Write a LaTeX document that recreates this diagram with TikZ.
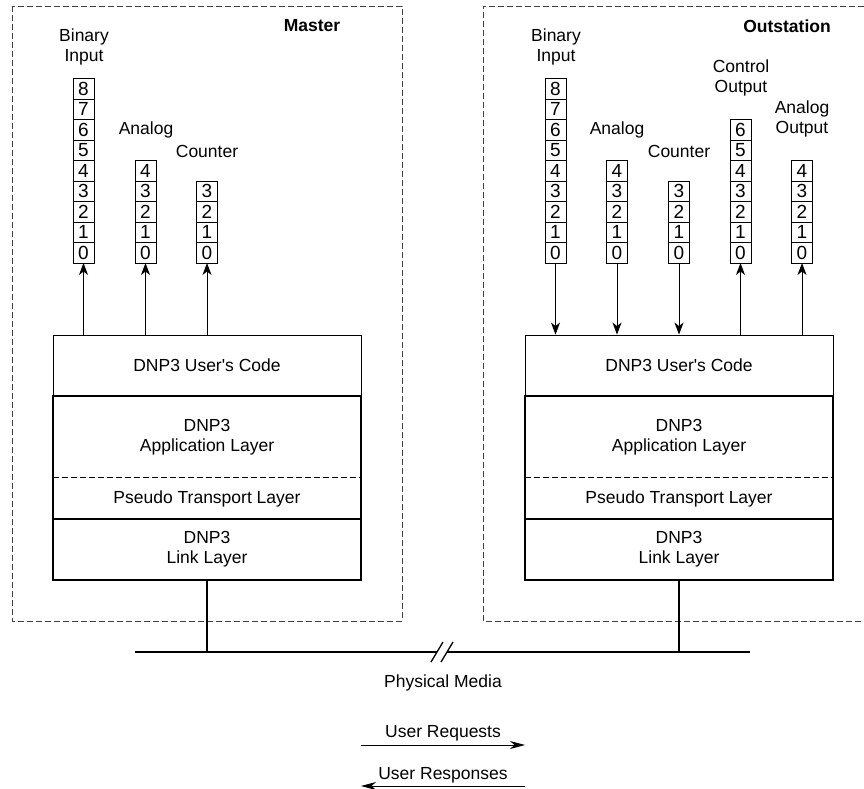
\documentclass[tikz,border=0pt]{standalone}
\usepackage{fontspec}
\setmainfont{Liberation Sans}
\usetikzlibrary{arrows.meta}

\tikzset{
  group/.style={draw=black!75, line width=0.9pt, dash pattern=on 6pt off 3pt},
  cell/.style={draw, line width=0.9pt, minimum width=21pt, minimum height=20.5pt, inner sep=0pt, outer sep=0pt,
    font=\fontsize{19}{20}\selectfont},
  codebox/.style={draw, line width=0.9pt, minimum width=308pt, minimum height=61pt, inner sep=0pt},
  layer/.style={minimum width=308pt, inner sep=0pt, align=center},
  heavy/.style={line width=2pt},
  split/.style={line width=0.9pt, dash pattern=on 6pt off 3pt},
  flow/.style={line width=0.9pt, -{Stealth[length=12pt,width=9pt,inset=3.5pt]}},
  legend/.style={line width=0.9pt, -{Stealth[length=15pt,width=8pt,inset=4.5pt]}},
  title/.style={font=\fontsize{17.5}{20}\selectfont\bfseries},
  lbl/.style={align=center, inner sep=0pt}
}

% one register column: name, x, bottom y, highest index
\newcommand\regcolumn[4]{%
  \foreach \i in {0,...,#4} {
    \node[cell] (#1\i) at (#2, #3 - 10.25 - 20.5*\i) {\i};
  }%
}

\begin{document}
\begin{tikzpicture}[x=1pt, y=-1pt, font=\fontsize{17.5}{20}\selectfont]
\useasboundingbox (0,0) rectangle (864,789);

% station outlines
\draw[group] (12,6) rectangle (402,621);
\draw[group] (864,6) -- (483,6) -- (483,621) -- (864,621);
\node[title] (mtitle) at (312,26) {Master};
\node[title] (otitle) at (787,26) {Outstation};

% ---------- master ----------
\regcolumn{mbi}{83.5}{263}{8}
\regcolumn{man}{145.5}{263}{4}
\regcolumn{mcn}{207}{263}{3}
\node[lbl] (mbil) at (84,47) {Binary\\Input};
\node[lbl] (manl) at (146,130) {Analog};
\node[lbl] (mcnl) at (207,151) {Counter};

\node[codebox] (mcode) at (207,365.5) {DNP3 User\textquotesingle s Code};
\node[layer, minimum height=82pt] (mapp) at (207,437) {DNP3\\Application Layer};
\node[layer, minimum height=41pt] (mtrans) at (207,498.5) {Pseudo Transport Layer};
\node[layer, minimum height=61pt] (mlink) at (207,549.5) {DNP3\\Link Layer};
\draw[heavy] (mapp.north west) rectangle (mlink.south east);
\draw[heavy] (mlink.north west) -- (mlink.north east);
\draw[split] (mtrans.north west) -- (mtrans.north east);

\draw[flow] (mcode.north -| mbi0) -- (mbi0.south);
\draw[flow] (mcode.north -| man0) -- (man0.south);
\draw[flow] (mcode.north -| mcn0) -- (mcn0.south);

% ---------- outstation ----------
\regcolumn{obi}{555.5}{263}{8}
\regcolumn{oan}{617}{263}{4}
\regcolumn{ocn}{679}{263}{3}
\regcolumn{oco}{740.5}{263}{6}
\regcolumn{oao}{802}{263}{4}
\node[lbl] (obil) at (556,47) {Binary\\Input};
\node[lbl] (oanl) at (617,130) {Analog};
\node[lbl] (ocnl) at (679,151) {Counter};
\node[lbl] (ocol) at (741,78) {Control\\Output};
\node[lbl] (oaol) at (802,119) {Analog\\Output};

\node[codebox] (ocode) at (679,365.5) {DNP3 User\textquotesingle s Code};
\node[layer, minimum height=82pt] (oapp) at (679,437) {DNP3\\Application Layer};
\node[layer, minimum height=41pt] (otrans) at (679,498.5) {Pseudo Transport Layer};
\node[layer, minimum height=61pt] (olink) at (679,549.5) {DNP3\\Link Layer};
\draw[heavy] (oapp.north west) rectangle (olink.south east);
\draw[heavy] (olink.north west) -- (olink.north east);
\draw[split] (otrans.north west) -- (otrans.north east);

\draw[flow] (obi0.south) -- (ocode.north -| obi0);
\draw[flow] (oan0.south) -- (ocode.north -| oan0);
\draw[flow] (ocn0.south) -- (ocode.north -| ocn0);
\draw[flow] (ocode.north -| oco0) -- (oco0.south);
\draw[flow] (ocode.north -| oao0) -- (oao0.south);

% ---------- physical media ----------
\coordinate (busL) at (135,652);
\coordinate (breakL) at (437,652);
\coordinate (breakR) at (447,652);
\coordinate (busR) at (750,652);
\draw[heavy] (busL) -- (breakL);
\draw[heavy] (breakR) -- (busR);
\draw[line width=1.3pt] (431,662) -- (443,642);
\draw[line width=1.3pt] (441,662) -- (453,642);
\draw[heavy] (mlink.south) -- (mlink.south |- busL);
\draw[heavy] (olink.south) -- (olink.south |- busL);
\node[lbl] (media) at (443,683) {Physical Media};

% ---------- legend ----------
\node[lbl] (req) at (443,733) {User Requests};
\coordinate (reqA) at (361,745);
\coordinate (reqB) at (525,745);
\draw[legend] (reqA) -- (reqB);
\node[lbl] (resp) at (443,775) {User Responses};
\coordinate (respA) at (525,786);
\coordinate (respB) at (361,786);
\draw[legend] (respA) -- (respB);
\end{tikzpicture}
\end{document}
